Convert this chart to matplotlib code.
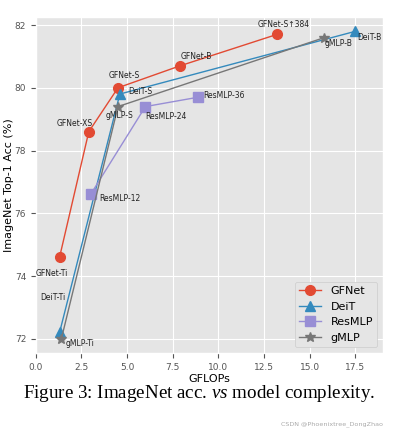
import matplotlib
matplotlib.use("Agg")
import matplotlib.pyplot as plt

plt.style.use("ggplot")
plt.rcParams["mathtext.fontset"] = "custom"
plt.rcParams["mathtext.rm"] = "Liberation Serif"
plt.rcParams["mathtext.it"] = "Liberation Serif:italic"

# data (GFLOPs, top-1 acc)
gfnet_x = [1.3, 2.9, 4.5, 7.9, 13.2]
gfnet_y = [74.6, 78.6, 80.0, 80.7, 81.7]
gfnet_names = ["GFNet-Ti", "GFNet-XS", "GFNet-S", "GFNet-B", "GFNet-S\u2191384"]

deit_x = [1.3, 4.6, 17.5]
deit_y = [72.2, 79.8, 81.8]
deit_names = ["DeiT-Ti", "DeiT-S", "DeiT-B"]

resmlp_x = [3.0, 6.0, 8.9]
resmlp_y = [76.6, 79.4, 79.7]
resmlp_names = ["ResMLP-12", "ResMLP-24", "ResMLP-36"]

gmlp_x = [1.4, 4.5, 15.8]
gmlp_y = [72.0, 79.4, 81.6]
gmlp_names = ["gMLP-Ti", "gMLP-S", "gMLP-B"]

fig = plt.figure(figsize=(3.98, 4.40), dpi=100)
fig.patch.set_facecolor("white")
ax = fig.add_axes([0.09, 0.198, 0.872, 0.763])

ax.plot(gfnet_x, gfnet_y, "-o", color="#E24A33", lw=1, ms=7, label="GFNet")
ax.plot(deit_x, deit_y, "-^", color="#348ABD", lw=1, ms=7, label="DeiT")
ax.plot(resmlp_x, resmlp_y, "-s", color="#988ED5", lw=1, ms=7, label="ResMLP")
ax.plot(gmlp_x, gmlp_y, "-*", color="#777777", lw=1, ms=7, label="gMLP")

# label offsets in points (text left edge, vertical centre)
gfnet_off = [(-17, -12), (-23, 6), (-7, 8.5), (0.5, 6.5), (-14, 7)]
deit_off = [(-14, 25), (6, 2), (1, -4.5)]
resmlp_off = [(6, -3), (0, -7), (3.6, 1.5)]
gmlp_off = [(3, -3.6), (-9, -6.5), (0, -4.5)]

kw = dict(textcoords="offset points", fontsize=5.5, color="#222222",
          ha="left", va="center")
for xs, ys, names, offs in [(gfnet_x, gfnet_y, gfnet_names, gfnet_off),
                            (deit_x, deit_y, deit_names, deit_off),
                            (resmlp_x, resmlp_y, resmlp_names, resmlp_off),
                            (gmlp_x, gmlp_y, gmlp_names, gmlp_off)]:
    for x, y, n, o in zip(xs, ys, names, offs):
        ax.annotate(n, (x, y), xytext=o, **kw)

ax.set_xlim(0, 19)
ax.set_ylim(71.55, 82.25)
ax.set_xticks([0, 2.5, 5, 7.5, 10, 12.5, 15, 17.5])
ax.set_yticks([72, 74, 76, 78, 80, 82])
ax.tick_params(labelsize=6.5, colors="#555555")
ax.set_xlabel("GFLOPs", fontsize=8, color="black", labelpad=2)
ax.set_ylabel("ImageNet Top-1 Acc (%)", fontsize=8, color="black")
ax.yaxis.set_label_coords(-0.063, 0.5)

ax.legend(loc="lower right", fontsize=8, facecolor="#E5E5E5", framealpha=1)

fig.text(0.5, 0.105, "Figure 3: ImageNet acc. $\\it{vs}$ model complexity.",
         ha="center", va="center", fontsize=13.7, family="Liberation Serif")
fig.text(0.962, 0.036, "CSDN @Phoenixtree_DongZhao", ha="right", va="center",
         fontsize=4.6, color="#AAAAAA")

fig.savefig("out.png", dpi=100)
